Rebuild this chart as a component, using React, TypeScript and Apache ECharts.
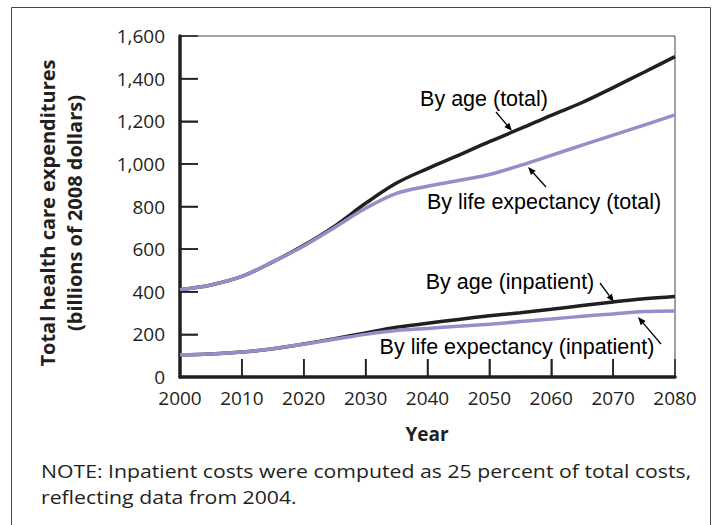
import React, { useEffect, useRef } from "react";
import * as echarts from "echarts";

const years = [2000, 2005, 2010, 2015, 2020, 2025, 2030, 2035, 2040, 2045, 2050, 2055, 2060, 2065, 2070, 2075, 2080];
const byAgeTotal = [410, 432, 472, 540, 618, 708, 815, 910, 978, 1040, 1104, 1165, 1228, 1288, 1358, 1430, 1503];
const byLifeTotal = [410, 432, 472, 540, 615, 702, 792, 862, 895, 922, 950, 993, 1040, 1088, 1135, 1182, 1230];
const byAgeInpatient = [104, 108, 117, 133, 155, 180, 207, 233, 252, 270, 287, 302, 318, 335, 352, 367, 378];
const byLifeInpatient = [104, 108, 117, 133, 154, 177, 200, 218, 228, 238, 248, 260, 272, 285, 296, 307, 310];

const xTicks = { min: 2000, max: 2080, interval: 10 };
const yTicks = { min: 0, max: 1600, interval: 200 };
const xTickValues = [2010, 2020, 2030, 2040, 2050, 2060, 2070];
const yTickValues = [200, 400, 600, 800, 1000, 1200, 1400];

const yTitle = "Total health care expenditures\n(billions of 2008 dollars)";
const xTitle = "Year";
const note = "NOTE: Inpatient costs were computed as 25 percent of total costs,\nreflecting data from 2004.";

const BLACK = "#231f20";
const LAVENDER = "#9a8cc8";
const AXFONT = "'Open Sans', 'Noto Sans', sans-serif";
const ANFONT = "'Liberation Sans', Arial, sans-serif";
const TICK_LEN = 18;

function arrow(x1: number, y1: number, x2: number, y2: number) {
  const ang = Math.atan2(y2 - y1, x2 - x1);
  const L = 8;
  const W = 3.2;
  const bx = x2 - L * Math.cos(ang);
  const by = y2 - L * Math.sin(ang);
  const px = -Math.sin(ang) * W;
  const py = Math.cos(ang) * W;
  return [
    {
      type: "line",
      shape: { x1, y1, x2: bx, y2: by },
      style: { stroke: "#000", lineWidth: 1.3 },
      silent: true,
    },
    {
      type: "polygon",
      shape: { points: [[x2, y2], [bx + px, by + py], [bx - px, by - py]] },
      style: { fill: "#000" },
      silent: true,
    },
  ];
}

function label(text: string, x: number, y: number) {
  return {
    type: "text",
    x,
    y,
    style: {
      text,
      fontFamily: ANFONT,
      fontSize: 21.5,
      fill: "#000",
      align: "center",
      verticalAlign: "middle",
    },
    silent: true,
  };
}

export default function App() {
  const ref = useRef<HTMLDivElement>(null);
  useEffect(() => {
    if (!ref.current) return;
    const chart = echarts.init(ref.current, null, { renderer: "svg" });
    const mk = (vals: number[]) => years.map((y, i) => [y, vals[i]]);
    const lineSeries = (name: string, vals: number[], color: string) => ({
      name,
      type: "line",
      data: mk(vals),
      showSymbol: false,
      smooth: 0.35,
      lineStyle: { color, width: 3.5 },
      itemStyle: { color },
      silent: true,
      z: 3,
    });
    const tickStyle = { show: true, inside: true, length: TICK_LEN, lineStyle: { color: BLACK, width: 1.5 } };
    chart.setOption({
      animation: false,
      backgroundColor: "#fff",
      grid: {
        left: 180,
        top: 36,
        right: 42,
        bottom: 148,
        show: true,
        borderColor: "#444",
        borderWidth: 1,
        backgroundColor: "transparent",
      },
      xAxis: {
        type: "value",
        ...xTicks,
        axisLine: { show: true, onZero: false, lineStyle: { color: BLACK, width: 3.5 } },
        axisTick: tickStyle,
        axisLabel: { color: BLACK, fontSize: 19, fontFamily: AXFONT, margin: 11, formatter: (v: number) => String(v) },
        splitLine: { show: false },
      },
      yAxis: {
        type: "value",
        ...yTicks,
        axisLine: { show: true, onZero: false, lineStyle: { color: BLACK, width: 3.5 } },
        axisTick: tickStyle,
        axisLabel: {
          color: BLACK,
          fontSize: 19,
          fontFamily: AXFONT,
          margin: 15,
          formatter: (v: number) => v.toLocaleString("en-US"),
        },
        splitLine: { show: false },
      },
      series: [
        lineSeries("By age (total)", byAgeTotal, BLACK),
        lineSeries("By life expectancy (total)", byLifeTotal, LAVENDER),
        lineSeries("By age (inpatient)", byAgeInpatient, BLACK),
        lineSeries("By life expectancy (inpatient)", byLifeInpatient, LAVENDER),
      ],
    });

    const finder = { xAxisIndex: 0, yAxisIndex: 0 };
    const ticks: any[] = [];
    yTickValues.forEach((v) => {
      const c = chart.convertToPixel(finder as any, [xTicks.min, v]) as number[];
      if (c && isFinite(c[0]) && isFinite(c[1])) {
        ticks.push({
          type: "line",
          shape: { x1: c[0], y1: c[1], x2: c[0] + TICK_LEN, y2: c[1] },
          style: { stroke: BLACK, lineWidth: 1.5 },
          silent: true,
          z: 10,
        });
      }
    });
    xTickValues.forEach((v) => {
      const c = chart.convertToPixel(finder as any, [v, yTicks.min]) as number[];
      if (c && isFinite(c[0]) && isFinite(c[1])) {
        ticks.push({
          type: "line",
          shape: { x1: c[0], y1: c[1], x2: c[0], y2: c[1] - TICK_LEN },
          style: { stroke: BLACK, lineWidth: 1.5 },
          silent: true,
          z: 10,
        });
      }
    });

    chart.setOption({
      graphic: [
        {
          type: "rect",
          shape: { x: 11.5, y: 7.5, width: 699, height: 540 },
          style: { fill: "none", stroke: "#444", lineWidth: 1 },
          silent: true,
          z: -1,
        },
        ...ticks,
        {
          type: "text",
          x: 61,
          y: 213,
          rotation: Math.PI / 2,
          style: {
            text: yTitle,
            fontFamily: AXFONT,
            fontWeight: "bold",
            fontSize: 20,
            lineHeight: 27,
            fill: BLACK,
            align: "center",
            verticalAlign: "middle",
          },
          silent: true,
        },
        {
          type: "text",
          x: 427,
          y: 434,
          style: {
            text: xTitle,
            fontFamily: AXFONT,
            fontWeight: "bold",
            fontSize: 19,
            fill: BLACK,
            align: "center",
            verticalAlign: "middle",
          },
          silent: true,
        },
        {
          type: "text",
          x: 41,
          y: 484,
          scaleX: 1.18,
          style: {
            text: note,
            fontFamily: AXFONT,
            fontSize: 18,
            lineHeight: 26,
            fill: BLACK,
            align: "left",
            verticalAlign: "middle",
          },
          silent: true,
        },
        label("By age (total)", 484, 99),
        label("By life expectancy (total)", 544, 202),
        label("By age (inpatient)", 510, 282),
        label("By life expectancy (inpatient)", 517, 347),
        ...arrow(496, 112, 512, 131),
        ...arrow(546, 187, 528, 167),
        ...arrow(600, 283, 614, 302),
        ...arrow(661, 344, 638, 317),
      ],
    });
    return () => chart.dispose();
  }, []);
  return (
    <div
      ref={ref}
      style={{ position: "fixed", left: 0, top: 0, width: 717, height: 525 }}
    />
  );
}
